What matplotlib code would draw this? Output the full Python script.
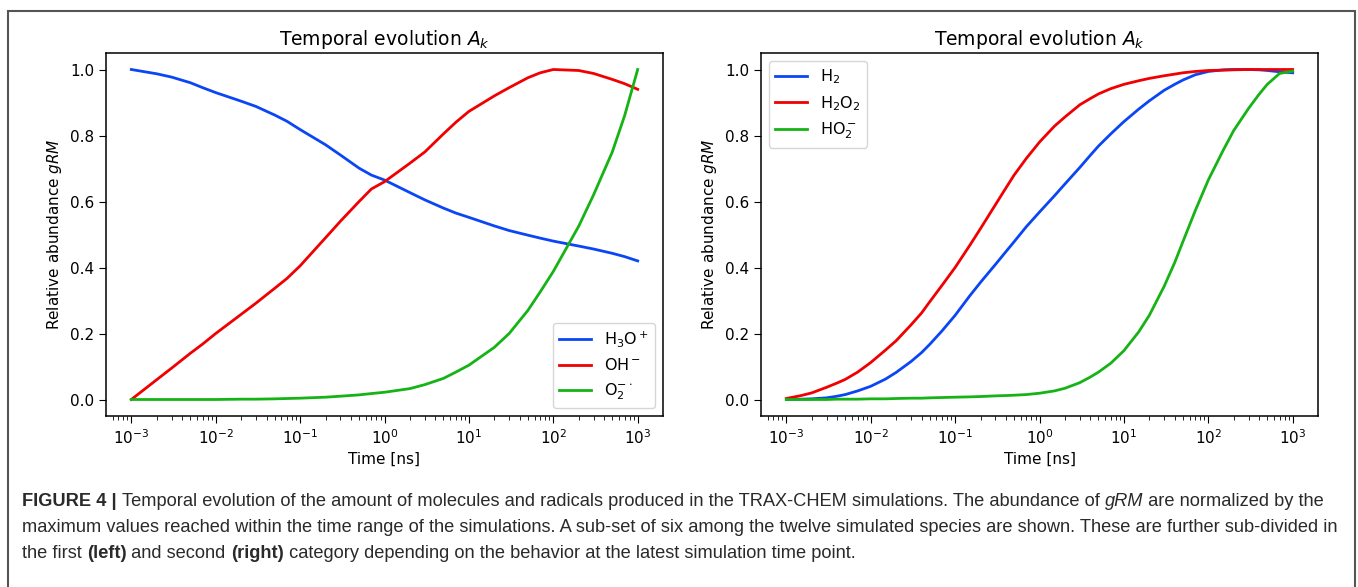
import matplotlib
matplotlib.use("Agg")
import matplotlib.pyplot as plt
from matplotlib import font_manager
from matplotlib.patches import Rectangle

# time grid of the left panel [ns]
time_left = [1e-3, 2e-3, 3e-3, 5e-3, 7e-3,
             1e-2, 2e-2, 3e-2, 5e-2, 7e-2,
             1e-1, 2e-1, 3e-1, 5e-1, 7e-1,
             1e0, 2e0, 3e0, 5e0, 7e0,
             1e1, 2e1, 3e1, 5e1, 7e1,
             1e2, 2e2, 3e2, 5e2, 7e2,
             1e3]

# left panel: first category
h3o = [1.000, 0.987, 0.977, 0.960, 0.945,
       0.930, 0.904, 0.888, 0.862, 0.843,
       0.818, 0.772, 0.741, 0.701, 0.680,
       0.665, 0.627, 0.605, 0.580, 0.565,
       0.552, 0.526, 0.512, 0.498, 0.489,
       0.480, 0.465, 0.456, 0.443, 0.433,
       0.420]
oh = [0.000, 0.060, 0.095, 0.140, 0.168,
      0.200, 0.258, 0.292, 0.337, 0.367,
      0.405, 0.490, 0.540, 0.600, 0.638,
      0.660, 0.716, 0.750, 0.805, 0.840,
      0.873, 0.920, 0.945, 0.975, 0.990,
      1.000, 0.997, 0.988, 0.970, 0.957,
      0.940]
o2 = [0.000, 0.000, 0.000, 0.000, 0.000,
      0.000, 0.001, 0.001, 0.002, 0.003,
      0.004, 0.007, 0.010, 0.014, 0.018,
      0.022, 0.033, 0.045, 0.064, 0.083,
      0.104, 0.158, 0.200, 0.270, 0.326,
      0.388, 0.525, 0.620, 0.750, 0.860,
      1.000]

# time grid of the right panel [ns] (finer, curves are smooth there)
time_right = [1e-3, 1.5e-3, 2e-3, 3e-3, 4e-3, 5e-3, 7e-3,
              1e-2, 1.5e-2, 2e-2, 3e-2, 4e-2, 5e-2, 7e-2,
              1e-1, 1.5e-1, 2e-1, 3e-1, 4e-1, 5e-1, 7e-1,
              1e0, 1.5e0, 2e0, 3e0, 4e0, 5e0, 7e0,
              1e1, 1.5e1, 2e1, 3e1, 4e1, 5e1, 7e1,
              1e2, 1.5e2, 2e2, 3e2, 4e2, 5e2, 7e2,
              1e3]

# right panel: second category
h2 = [0.000, 0.001, 0.002, 0.005, 0.010, 0.015, 0.026,
      0.040, 0.062, 0.082, 0.115, 0.142, 0.167, 0.208,
      0.255, 0.315, 0.355, 0.409, 0.448, 0.478, 0.524,
      0.568, 0.617, 0.653, 0.703, 0.740, 0.768, 0.805,
      0.842, 0.880, 0.905, 0.937, 0.955, 0.968, 0.984,
      0.994, 0.999, 1.000, 1.000, 0.999, 0.997, 0.993,
      0.990]
h2o2 = [0.003, 0.012, 0.020, 0.037, 0.050, 0.061, 0.083,
        0.112, 0.150, 0.178, 0.226, 0.262, 0.296, 0.346,
        0.400, 0.468, 0.518, 0.590, 0.641, 0.680, 0.731,
        0.780, 0.828, 0.856, 0.893, 0.912, 0.926, 0.942,
        0.955, 0.966, 0.973, 0.981, 0.986, 0.990, 0.994,
        0.997, 0.998, 0.999, 1.000, 1.000, 1.000, 1.000,
        1.000]
ho2 = [0.000, 0.000, 0.000, 0.000, 0.001, 0.001, 0.001,
       0.002, 0.002, 0.003, 0.004, 0.004, 0.005, 0.006,
       0.007, 0.008, 0.009, 0.011, 0.012, 0.013, 0.015,
       0.019, 0.026, 0.034, 0.051, 0.068, 0.083, 0.110,
       0.148, 0.205, 0.255, 0.343, 0.415, 0.478, 0.572,
       0.665, 0.755, 0.815, 0.882, 0.925, 0.955, 0.988,
       0.995]

left_series = [(h3o, r"$\mathrm{H_3O^+}$"), (oh, r"$\mathrm{OH^-}$"), (o2, r"$\mathrm{O_2^{-\cdot}}$")]
right_series = [(h2, r"$\mathrm{H_2}$"), (h2o2, r"$\mathrm{H_2O_2}$"), (ho2, r"$\mathrm{HO_2^-}$")]
colors = ["#0a46f5", "#f00000", "#16b316"]

caption_lines = [
    [("FIGURE 4 | ", "bold", "normal"),
     ("Temporal evolution of the amount of molecules and radicals produced in the TRAX-CHEM simulations. The abundance of ", "normal", "normal"),
     ("gRM", "normal", "italic"),
     (" are normalized by the", "normal", "normal")],
    [("maximum values reached within the time range of the simulations. A sub-set of six among the twelve simulated species are shown. These are further sub-divided in",
      "normal", "normal")],
    [("the first ", "normal", "normal"), ("(left)", "bold", "normal"), (" and second ", "normal", "normal"),
     ("(right)", "bold", "normal"),
     (" category depending on the behavior at the latest simulation time point.", "normal", "normal")],
]

plt.rcParams["font.size"] = 11
plt.rcParams["axes.linewidth"] = 1.1
plt.rcParams["xtick.major.size"] = 5
plt.rcParams["ytick.major.size"] = 5
plt.rcParams["xtick.minor.size"] = 3

fig = plt.figure(figsize=(13.58, 5.87), dpi=100)

# outer frame of the figure panel
fig.patches.append(Rectangle((8 / 1358, -0.05), 1347 / 1358, 1.05 - 11 / 587,
                             transform=fig.transFigure, fill=False,
                             edgecolor="#555555", linewidth=1.5))

ax_l = fig.add_axes([106 / 1358, 1 - 416 / 587, 557 / 1358, 363 / 587])
ax_r = fig.add_axes([761 / 1358, 1 - 416 / 587, 557 / 1358, 363 / 587])

panels = [(ax_l, time_left, left_series, "lower right"),
          (ax_r, time_right, right_series, "upper left")]
for ax, times, series, loc in panels:
    for (vals, label), c in zip(series, colors):
        ax.plot(times, vals, color=c, linewidth=2, label=label)
    ax.set_xscale("log")
    ax.set_yticks([0.0, 0.2, 0.4, 0.6, 0.8, 1.0])
    ax.set_title(r"Temporal evolution $A_k$", fontsize=13.5)
    ax.set_xlabel("Time [ns]", fontsize=11)
    ax.set_ylabel(r"Relative abundance $gRM$", fontsize=11)
    ax.tick_params(labelsize=11)
    ax.legend(loc=loc, fontsize=11.5)

# caption with mixed styles
cap_font = "Liberation Sans"
try:
    font_manager.findfont("Liberation Sans Narrow", fallback_to_default=False)
    cap_font = "Liberation Sans Narrow"
except ValueError:
    pass

renderer = fig.canvas.get_renderer()


def line_width(parts, size):
    w = 0
    for txt, weight, style in parts:
        t = fig.text(0, 0, txt, fontsize=size, family=cap_font, weight=weight, style=style)
        w += t.get_window_extent(renderer).width
        t.remove()
    return w


# scale the caption so the second line spans the same width as in the reference
cap_size = 13.0 * 1316 / line_width(caption_lines[1], 13.0)

y_pix = [501, 527, 553]
for parts, yp in zip(caption_lines, y_pix):
    x = 22
    for txt, weight, style in parts:
        t = fig.text(x / 1358, 1 - yp / 587, txt, fontsize=cap_size, family=cap_font,
                     weight=weight, style=style, color="#2a2a2a", va="center")
        x += t.get_window_extent(renderer).width

fig.savefig("out.png", dpi=100)
